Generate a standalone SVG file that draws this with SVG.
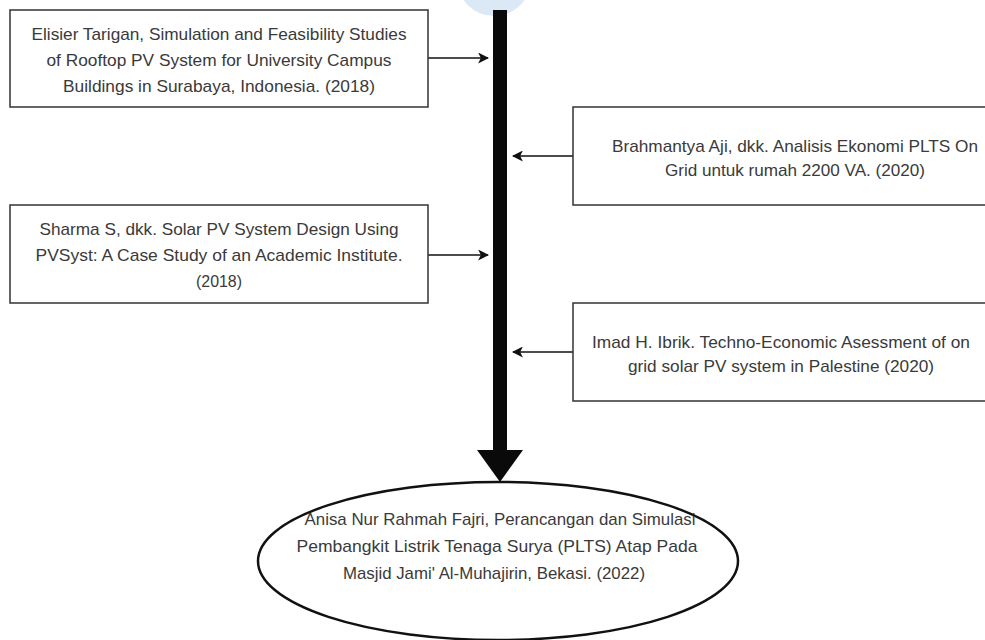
<svg xmlns="http://www.w3.org/2000/svg" width="985" height="640" viewBox="0 0 985 640">
<defs>
<style>
.box{fill:#ffffff;stroke:#333333;stroke-width:1.5}
.ell{fill:#ffffff;stroke:#111111;stroke-width:2.5}
.t{font-family:"Liberation Sans",Arial,sans-serif;font-size:17px;fill:#3a3a3a;text-anchor:middle}
.c{stroke:#111111;stroke-width:1.5;fill:none}
</style>
<marker id="ah" viewBox="0 0 10 10" refX="9" refY="5" markerWidth="11" markerHeight="11" markerUnits="userSpaceOnUse" orient="auto">
<path d="M0,0 L10,5 L0,10 L2.5,5 Z" fill="#111111"/>
</marker>
</defs>
<rect width="985" height="640" fill="#ffffff"/>
<circle cx="494" cy="-21" r="37" fill="#dbe9f6"/>

<g id="connectors">
<rect x="493" y="10" width="14" height="442" fill="#0a0a0a"/>
<polygon points="477,450 523,450 500,482" fill="#0a0a0a"/>
<line class="c" x1="428" y1="58" x2="488" y2="58" marker-end="url(#ah)"/>
<line class="c" x1="428" y1="255" x2="488" y2="255" marker-end="url(#ah)"/>
<line class="c" x1="573" y1="156" x2="513" y2="156" marker-end="url(#ah)"/>
<line class="c" x1="573" y1="352" x2="513" y2="352" marker-end="url(#ah)"/>
</g>

<g id="node-tarigan">
<rect class="box" x="10" y="10" width="418" height="97"/>
<text class="t" x="219" y="40" textLength="375" lengthAdjust="spacingAndGlyphs">Elisier Tarigan, Simulation and Feasibility Studies</text>
<text class="t" x="219" y="66" textLength="345" lengthAdjust="spacingAndGlyphs">of Rooftop PV System for University Campus</text>
<text class="t" x="219" y="92" textLength="312" lengthAdjust="spacingAndGlyphs">Buildings in Surabaya, Indonesia. (2018)</text>
</g>

<g id="node-brahmantya">
<rect class="box" x="573" y="107" width="444" height="98"/>
<text class="t" x="795" y="152" textLength="366" lengthAdjust="spacingAndGlyphs">Brahmantya Aji, dkk. Analisis Ekonomi PLTS On</text>
<text class="t" x="795" y="176" textLength="260" lengthAdjust="spacingAndGlyphs">Grid untuk rumah 2200 VA. (2020)</text>
</g>

<g id="node-sharma">
<rect class="box" x="10" y="205" width="418" height="98"/>
<text class="t" x="219" y="235" textLength="359" lengthAdjust="spacingAndGlyphs">Sharma S, dkk. Solar PV System Design Using</text>
<text class="t" x="219" y="261" textLength="367" lengthAdjust="spacingAndGlyphs">PVSyst: A Case Study of an Academic Institute.</text>
<text class="t" x="219" y="287" textLength="46" lengthAdjust="spacingAndGlyphs">(2018)</text>
</g>

<g id="node-imad">
<rect class="box" x="573" y="303" width="420" height="98"/>
<text class="t" x="781" y="348" textLength="378" lengthAdjust="spacingAndGlyphs">Imad H. Ibrik. Techno-Economic Asessment of on</text>
<text class="t" x="781" y="372" textLength="306" lengthAdjust="spacingAndGlyphs">grid solar PV system in Palestine (2020)</text>
</g>

<g id="node-anisa">
<ellipse class="ell" cx="498" cy="561" rx="240" ry="79"/>
<text class="t" x="500" y="525" textLength="391" lengthAdjust="spacingAndGlyphs">Anisa Nur Rahmah Fajri, Perancangan dan Simulasi</text>
<text class="t" x="497" y="552" textLength="401" lengthAdjust="spacingAndGlyphs">Pembangkit Listrik Tenaga Surya (PLTS) Atap Pada</text>
<text class="t" x="494" y="579" textLength="302" lengthAdjust="spacingAndGlyphs">Masjid Jami' Al-Muhajirin, Bekasi. (2022)</text>
</g>
</svg>
